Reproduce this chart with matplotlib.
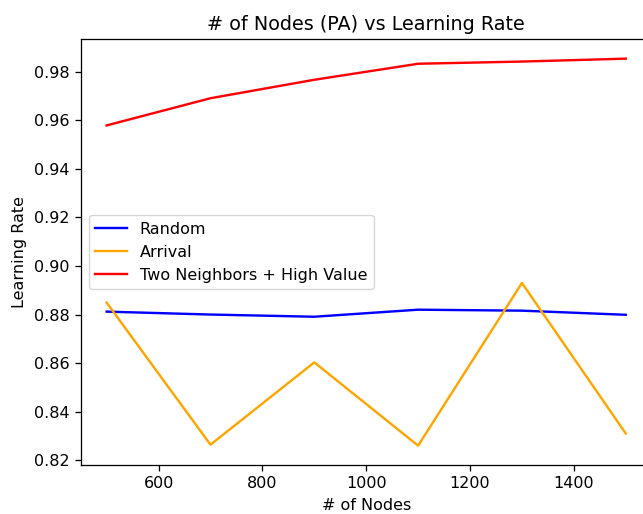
import matplotlib
matplotlib.use("Agg")
import matplotlib.pyplot as plt

nodes = [500, 700, 900, 1100, 1300, 1500]
random_lr = [0.8812, 0.8800, 0.8791, 0.8820, 0.8816, 0.8799]
arrival_lr = [0.8849, 0.8264, 0.8603, 0.8260, 0.8930, 0.8310]
two_neighbors_lr = [0.9579, 0.9691, 0.9767, 0.9833, 0.9842, 0.9854]

s = 1.15
plt.rcParams.update({
    "font.size": 10 * s,
    "axes.titlesize": 12 * s,
    "lines.linewidth": 1.5 * s,
    "axes.linewidth": 0.8 * s,
    "xtick.major.size": 3.5 * s,
    "ytick.major.size": 3.5 * s,
    "xtick.major.width": 0.8 * s,
    "ytick.major.width": 0.8 * s,
    "xtick.major.pad": 3.5 * s,
    "ytick.major.pad": 3.5 * s,
    "axes.titlepad": 6 * s,
    "axes.labelpad": 4 * s,
})

fig = plt.figure(figsize=(6.43, 5.14), dpi=100)
ax = fig.add_axes([80.7 / 643, (514 - 465) / 514, 571 / 643, 425.7 / 514])
ax.plot(nodes, random_lr, color="blue", label="Random")
ax.plot(nodes, arrival_lr, color="orange", label="Arrival")
ax.plot(nodes, two_neighbors_lr, color="red", label="Two Neighbors + High Value")
ax.set_title("# of Nodes (PA) vs Learning Rate")
ax.set_xlabel("# of Nodes")
ax.set_ylabel("Learning Rate")
ax.legend(loc="center left")
fig.savefig("out.png", dpi=100)
